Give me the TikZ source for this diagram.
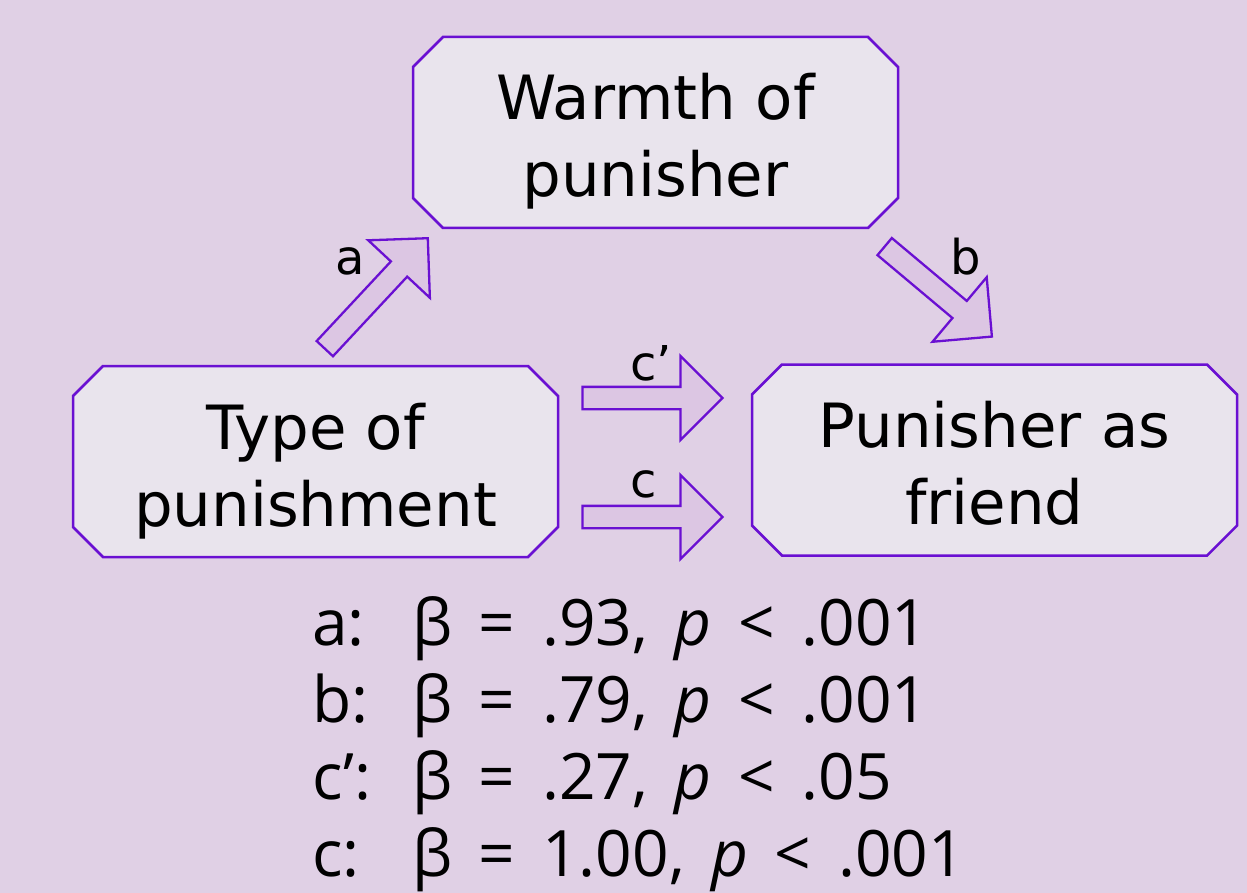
\documentclass[tikz,border=0pt]{standalone}
\usepackage{fontspec}
\setmainfont{DejaVu Sans}
\newfontfamily\statfont[WordSpace=1.6]{Open Sans}
\usepackage{xcolor}
\definecolor{cBack}{HTML}{E0D0E5}
\definecolor{cBox}{HTML}{E9E4ED}
\definecolor{cLine}{HTML}{6A10D2}
\definecolor{cArrow}{HTML}{DCC6E3}
\usepackage{tikz}
\usetikzlibrary{positioning,shapes.misc,shapes.arrows}
\tikzset{
  node-box/.style={chamfered rectangle,draw=cLine,line width=2.5pt,fill=cBox,
    chamfered rectangle xsep=15pt,chamfered rectangle ysep=15pt,
    minimum width=485pt,minimum height=191pt,inner sep=0pt,align=center,
    font=\fontsize{61}{77}\selectfont,text height=135pt,text depth=6pt},
  arrow-block/.style={single arrow,draw=cLine,line width=2.3pt,fill=cArrow,
    inner sep=10pt,single arrow head extend=31pt,single arrow tip angle=90,
    minimum height=#1},
  node-label/.style={inner sep=0pt,font=\fontsize{48}{48}\selectfont},
  node-stat/.style={inner sep=0pt,anchor=base west,
    font=\statfont\fontsize{64}{77}\selectfont},
}

\begin{document}
\begin{tikzpicture}[x=1pt,y=-1pt]
  \fill[cBack] (0,0) rectangle (1247,893);
  % the three variables
  \node[node-box] (warmth) at (655.5,132.5) {Warmth of\\punisher};
  \node[node-box] (type)   at (315.5,461.5) {Type of\\punishment};
  \node[node-box] (friend) at (994.5,460)   {Punisher as\\friend};
  % paths
  \node[arrow-block=151pt,rotate=47]  (pa)  at (372.5,297.5) {};
  \node[arrow-block=140pt,rotate=-40] (pb)  at (934,288) {};
  \node[arrow-block=140pt]            (pcp) at (647,398) {};
  \node[arrow-block=140pt]            (pc)  at (647,517) {};
  \node[node-label,anchor=base]      (la)  at (350,275) {a};
  \node[node-label,anchor=base]      (lb)  at (966,275) {b};
  \node[node-label,anchor=base west] (lcp) at (630,380) {c’};
  \node[node-label,anchor=base west] (lc)  at (630,497) {c};
  % coefficients
  \foreach \lab/\val [count=\i from 0] in {a:/{β = .93, \textit{p} < .001},
      b:/{β = .79, \textit{p} < .001}, c’:/{β = .27, \textit{p} < .05},
      c:/{β = 1.00, \textit{p} < .001}} {
    \node[node-stat] (lab-\i) at (312,645+77*\i) {\lab};
    \node[node-stat] (val-\i) at (412,645+77*\i) {\val};
  }
\end{tikzpicture}
\end{document}
